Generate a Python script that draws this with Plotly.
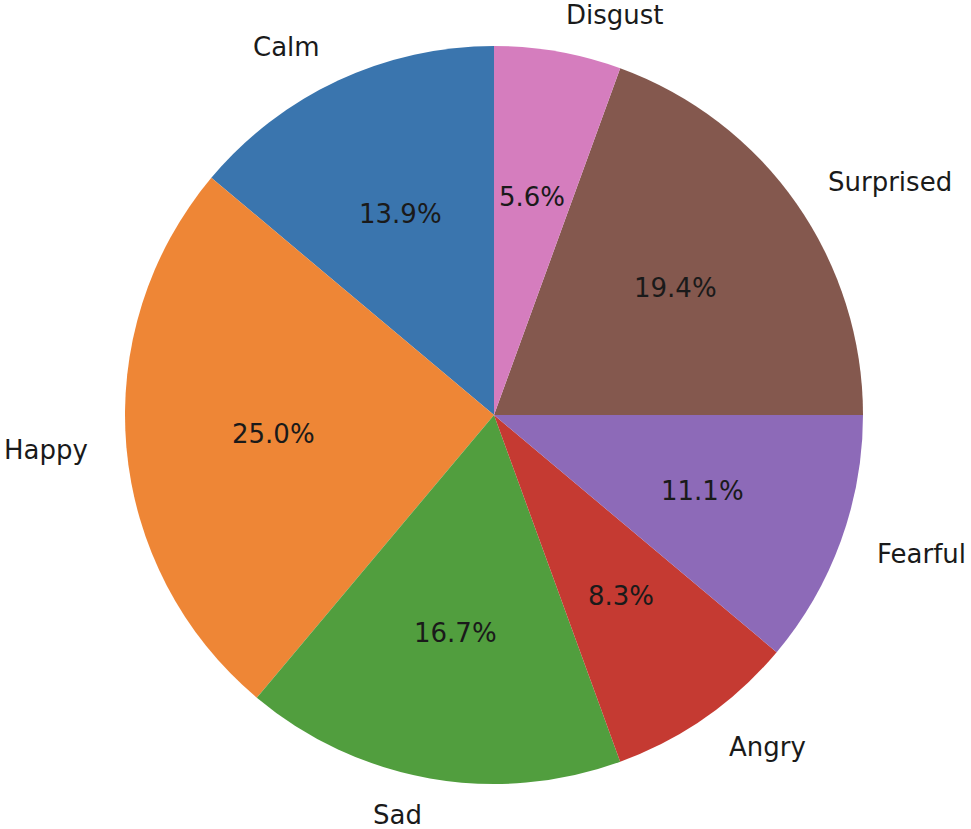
import math
import plotly.graph_objects as go

# emotion counts (36 samples in total)
emotions = ['Calm', 'Happy', 'Sad', 'Angry', 'Fearful', 'Surprised', 'Disgust']
counts = [5, 9, 6, 3, 4, 7, 2]
colors = ['#3a75ae', '#ee8636', '#519e3e', '#c53a32', '#8d6ab8', '#84584e', '#d57dbe']

W, H = 971, 829
CX, CY, R = 494, 415, 369  # pie centre and radius in pixels

total = sum(counts)

fig = go.Figure()
fig.add_trace(
    go.Pie(
        labels=emotions,
        values=counts,
        marker=dict(colors=colors, line=dict(width=0)),
        sort=False,
        direction='counterclockwise',
        # plotly ends the first slice at 12 o'clock when going counterclockwise,
        # so turn it back so that 'Calm' starts at 12 o'clock (startangle=90)
        rotation=-counts[0] / total * 360,
        textinfo='none',
        hoverinfo='label+percent',
        showlegend=False,
        domain=dict(x=[(CX - R) / W, (CX + R) / W],
                    y=[1 - (CY + R) / H, 1 - (CY - R) / H]),
    )
)

# label at 1.1 r, percentage at 0.6 r (like matplotlib's autopct)
start = 90.0
annotations = []
for name, c in zip(emotions, counts):
    frac = c / total
    mid = math.radians(start + frac * 360 / 2)
    start += frac * 360
    cosm, sinm = math.cos(mid), math.sin(mid)
    annotations.append(dict(
        x=(CX + 1.1 * R * cosm) / W, y=1 - (CY - 1.1 * R * sinm) / H,
        xref='paper', yref='paper', text=name, showarrow=False,
        xanchor='left' if cosm >= 0 else 'right', yanchor='middle',
        font=dict(size=26, color='#1a1a1a'),
    ))
    annotations.append(dict(
        x=(CX + 0.6 * R * cosm) / W, y=1 - (CY - 0.6 * R * sinm) / H,
        xref='paper', yref='paper', text='%.1f%%' % (frac * 100), showarrow=False,
        xanchor='center', yanchor='middle',
        font=dict(size=26, color='#1a1a1a'),
    ))

fig.update_layout(
    width=W, height=H,
    margin=dict(l=0, r=0, t=0, b=0),
    paper_bgcolor='white',
    font=dict(family='DejaVu Sans'),
    annotations=annotations,
)
# drop the page's default body margin so the figure fills the window
fig.write_html("out.html", config={'displayModeBar': False},
               post_script="document.body.style.margin = '0';")
